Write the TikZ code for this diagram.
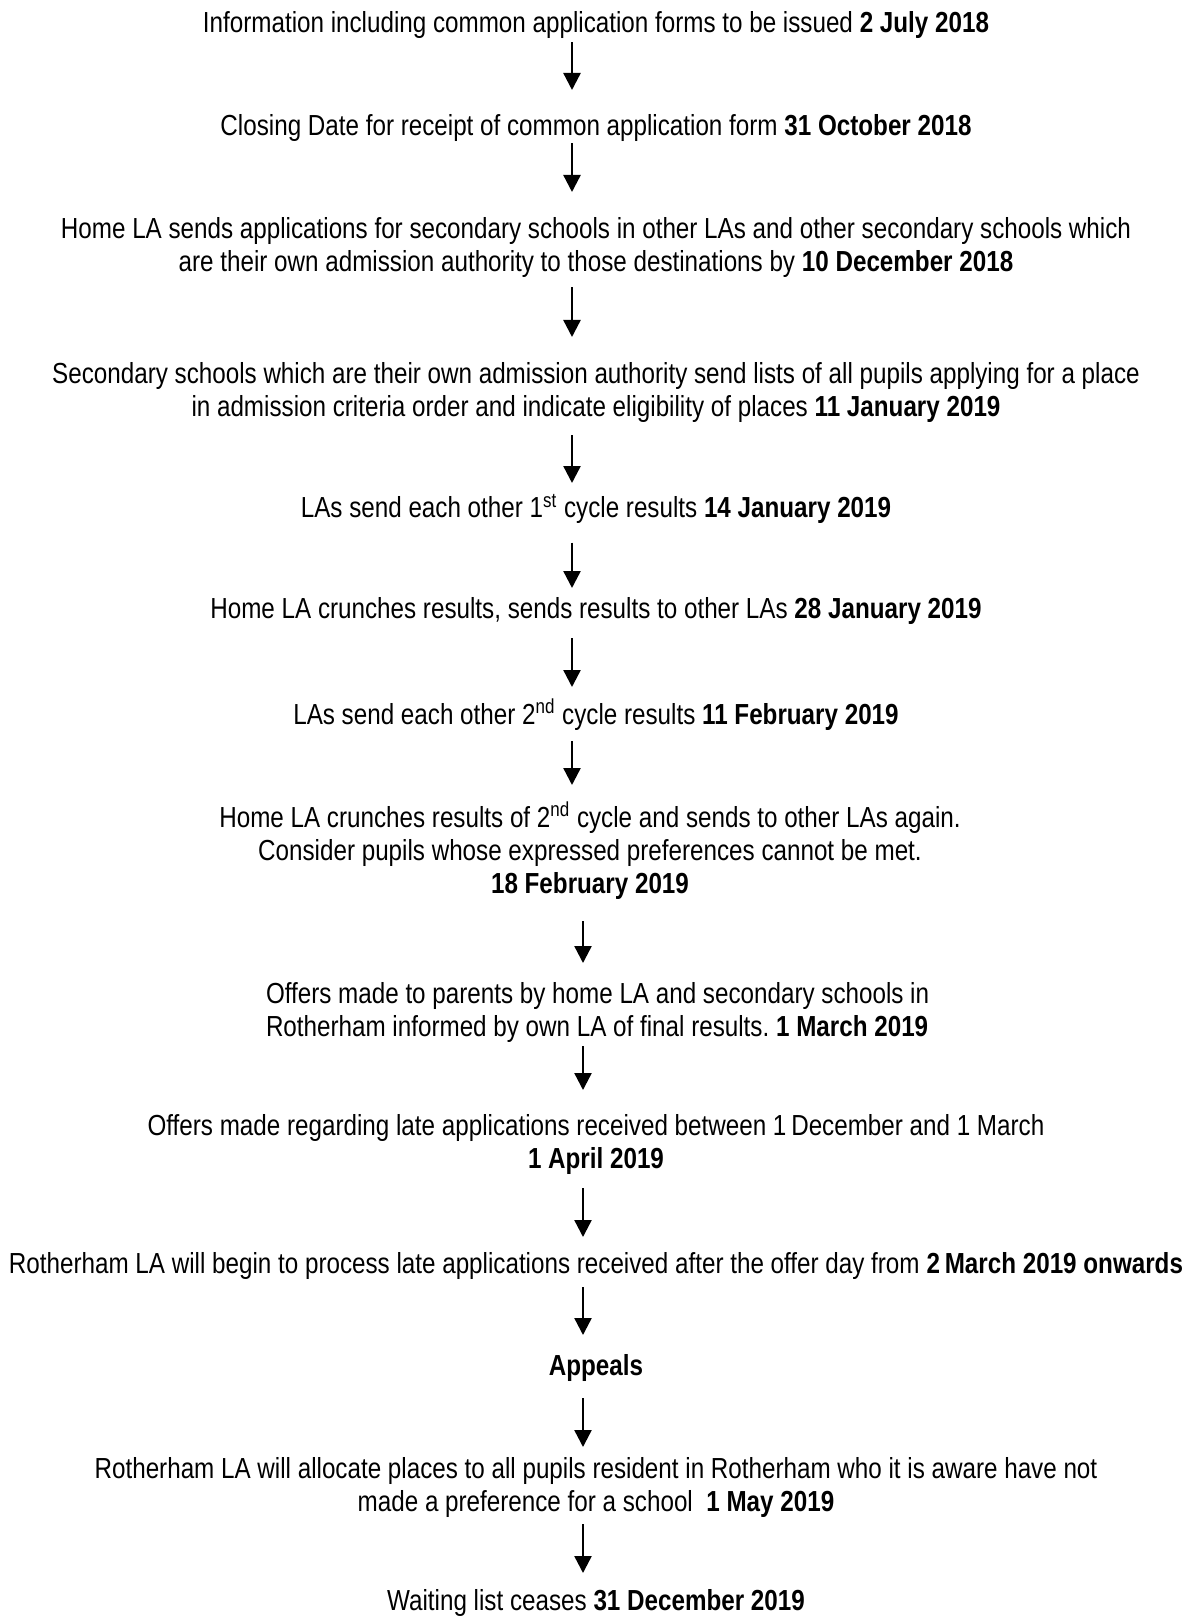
\documentclass[tikz,border=0pt]{standalone}
\usepackage{fontspec}
\setmainfont{Liberation Sans}[FakeStretch=0.835]
\usetikzlibrary{arrows.meta}
\frenchspacing
\begin{document}
\begin{tikzpicture}[x=0.5pt,y=-0.5pt,
  lbl/.style={anchor=north, inner sep=0pt, outer sep=0pt, align=center, font=\fontsize{14.5}{16.5}\selectfont},
  arr/.style={line width=1.2pt, -{Triangle[width=8.5pt,length=8.5pt]}}]
\useasboundingbox (0,0) rectangle (1192,1620);
\coordinate (colA) at (572,0);
\coordinate (colB) at (583,0);
\node[lbl] (n1) at (596,11) {Information including common application forms to be issued \textbf{2 July 2018}};
\node[lbl] (n2) at (596,114) {Closing Date for receipt of common application form \textbf{31 October 2018}};
\node[lbl] (n3) at (596,217) {Home LA sends applications for secondary schools in other LAs and other secondary schools which\\ are their own admission authority to those destinations by \textbf{10 December 2018}};
\node[lbl] (n4) at (596,362) {Secondary schools which are their own admission authority send lists of all pupils applying for a place\\ in admission criteria order and indicate eligibility of places \textbf{11 January 2019}};
\node[lbl] (n5) at (596,494) {LAs send each other 1\textsuperscript{st} cycle results \textbf{14 January 2019}};
\node[lbl] (n6) at (596,597) {Home LA crunches results, sends results to other LAs \textbf{28 January 2019}};
\node[lbl] (n7) at (596,699) {LAs send each other 2\textsuperscript{nd} cycle results \textbf{11 February 2019}};
\node[lbl] (n8) at (590,802) {Home LA crunches results of 2\textsuperscript{nd} cycle and sends to other LAs again.\\ Consider pupils whose expressed preferences cannot be met.\\ \textbf{18 February 2019}};
\node[lbl, anchor=north west, align=left] (n9) at (266,982) {Offers made to parents by home LA and secondary schools in\\ Rotherham informed by own LA of final results. \textbf{1 March 2019}};
\node[lbl] (n10) at (596,1114) {Offers made regarding late applications received between 1\,December and 1 March\\ \textbf{1 April 2019}};
\node[lbl] (n11) at (596,1252) {Rotherham LA will begin to process late applications received after the offer day from \textbf{2\,March 2019 onwards}};
\node[lbl] (n12) at (596,1354) {\textbf{Appeals}};
\node[lbl] (n13) at (596,1457) {Rotherham LA will allocate places to all pupils resident in Rotherham who it is aware have not\\ made a preference for a school\ \ \textbf{1 May 2019}};
\node[lbl] (n14) at (596,1589) {Waiting list ceases \textbf{31 December 2019}};
\draw[arr, shorten <=2pt, shorten >=12pt] (n1.south -| colA) -- (n2.north -| colA);
\draw[arr, shorten <=1pt, shorten >=12.5pt] (n2.south -| colA) -- (n3.north -| colA);
\draw[arr, shorten <=5pt, shorten >=12.5pt] (n3.south -| colA) -- (n4.north -| colA);
\draw[arr, shorten <=6.5pt, shorten >=5.5pt] (n4.south -| colA) -- (n5.north -| colA);
\draw[arr, shorten <=9.5pt, shorten >=4.5pt] (n5.south -| colA) -- (n6.north -| colA);
\draw[arr, shorten <=7pt, shorten >=6pt] (n6.south -| colA) -- (n7.north -| colA);
\draw[arr, shorten <=5.5pt, shorten >=8.5pt] (n7.south -| colA) -- (n8.north -| colA);
\draw[arr, shorten <=11pt, shorten >=9.5pt] (n8.south -| colB) -- (n9.north -| colB);
\draw[arr, shorten <=2pt, shorten >=12pt] (n9.south -| colB) -- (n10.north -| colB);
\draw[arr, shorten <=7pt, shorten >=7.5pt] (n10.south -| colB) -- (n11.north -| colB);
\draw[arr, shorten <=4pt, shorten >=9.5pt] (n11.south -| colB) -- (n12.north -| colB);
\draw[arr, shorten <=8.5pt, shorten >=5pt] (n12.south -| colB) -- (n13.north -| colB);
\draw[arr, shorten <=3.5pt, shorten >=8pt] (n13.south -| colB) -- (n14.north -| colB);
\end{tikzpicture}
\end{document}
